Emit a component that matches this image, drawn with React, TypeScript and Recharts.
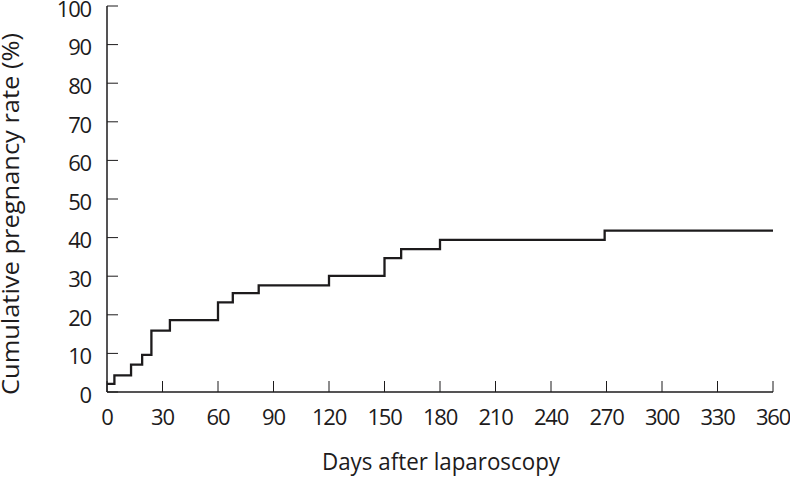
import React from "react";
import { LineChart, Line, XAxis, YAxis } from "recharts";

document.body.style.margin = "0";

// Kaplan-Meier style steps
const days = [0, 4, 13, 19, 24, 34, 60, 68, 82, 120, 150, 159, 180, 269, 360];
const rate = [2.1, 4.3, 7.1, 9.6, 15.9, 18.6, 23.2, 25.6, 27.6, 30.1, 34.7, 37.0, 39.4, 41.8, 41.8];
const xTicks = [0, 30, 60, 90, 120, 150, 180, 210, 240, 270, 300, 330, 360];
const yTicks = [0, 10, 20, 30, 40, 50, 60, 70, 80, 90, 100];

const data = days.map((d, i) => ({ day: d, rate: rate[i] }));

const FONT = "'Open Sans', sans-serif";
const INK = "#1d1b1c";
const TICK_LEN = 11;

const YTick = ({ x, y, payload }: any) => (
  <g>
    <line x1={x} x2={x + TICK_LEN} y1={y} y2={y} stroke={INK} strokeWidth={1} />
    <text
      x={x - 16}
      y={y + 5}
      textAnchor="end"
      dominantBaseline="middle"
      fontFamily={FONT}
      fontSize={22}
      letterSpacing={-1.2}
      fill={INK}
    >
      {payload.value}
    </text>
  </g>
);

const XTick = ({ x, y, payload }: any) => (
  <g>
    <line x1={x} x2={x} y1={y} y2={y - TICK_LEN} stroke={INK} strokeWidth={1} />
    <text
      x={x}
      y={y + 27}
      textAnchor="middle"
      dominantBaseline="middle"
      fontFamily={FONT}
      fontSize={22}
      letterSpacing={-1.2}
      fill={INK}
    >
      {payload.value}
    </text>
  </g>
);

export default function App() {
  return (
    <div style={{ width: 790, height: 483, background: "#fff" }}>
      <LineChart width={790} height={483} data={data} margin={{ top: 6, right: 17, left: 47, bottom: 41 }}>
        <XAxis
          dataKey="day"
          type="number"
          domain={[0, 360]}
          ticks={xTicks}
          interval={0}
          height={50}
          tickSize={0}
          tickMargin={0}
          tickLine={false}
          tick={<XTick />}
          axisLine={{ stroke: INK, strokeWidth: 1.5 }}
        />
        <YAxis
          type="number"
          domain={[0, 100]}
          ticks={yTicks}
          interval={0}
          width={60}
          tickSize={0}
          tickMargin={0}
          tickLine={false}
          tick={<YTick />}
          axisLine={{ stroke: INK, strokeWidth: 1.5 }}
        />
        <Line
          type="stepAfter"
          dataKey="rate"
          stroke={INK}
          strokeWidth={2.3}
          dot={false}
          isAnimationActive={false}
        />
        <text
          x={441}
          y={464}
          textAnchor="middle"
          dominantBaseline="middle"
          fontFamily={FONT}
          fontSize={23}
          textLength={238}
          lengthAdjust="spacingAndGlyphs"
          fill={INK}
        >
          Days after laparoscopy
        </text>
        <text
          x={13}
          y={214}
          transform="rotate(-90 13 214)"
          textAnchor="middle"
          dominantBaseline="middle"
          fontFamily={FONT}
          fontSize={23}
          textLength={362}
          lengthAdjust="spacingAndGlyphs"
          fill={INK}
        >
          Cumulative pregnancy rate (%)
        </text>
      </LineChart>
    </div>
  );
}
